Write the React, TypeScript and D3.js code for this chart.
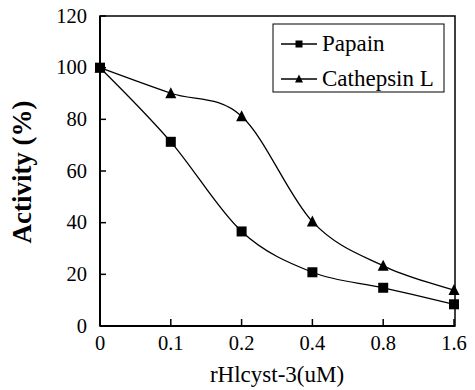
import React from 'react';
import * as d3 from 'd3';

const categories = ['0', '0.1', '0.2', '0.4', '0.8', '1.6'];
const papain = [100, 71.3, 36.6, 20.8, 14.8, 8.4];
const cathepsinL = [100, 90.1, 81.2, 40.4, 23.3, 13.9];
const yTicks = [0, 20, 40, 60, 80, 100, 120];

const W = 475;
const H = 390;
const margin = { top: 16, right: 20, bottom: 64, left: 100 };
const font = "'Liberation Serif', serif";

const App = () => {
  const x = d3.scalePoint<string>()
    .domain(categories)
    .range([margin.left, 454]);
  const y = d3.scaleLinear()
    .domain([0, 120])
    .range([H - margin.bottom, margin.top]);

  const line = d3.line<number>()
    .x((d, i) => x(categories[i]) as number)
    .y((d) => y(d))
    .curve(d3.curveCardinal.tension(0));

  const right = W - margin.right;
  const bottom = H - margin.bottom;

  const square = (cx: number, cy: number, s: number, key?: string) => (
    <rect key={key} x={cx - s / 2} y={cy - s / 2} width={s} height={s} fill="#000" />
  );
  const triangle = (cx: number, cy: number, s: number, key?: string) => (
    <path
      key={key}
      d={`M${cx},${cy - s * 0.55}L${cx + s / 2},${cy + s * 0.45}L${cx - s / 2},${cy + s * 0.45}Z`}
      fill="#000"
    />
  );

  const legendX = 273;
  const legendY = 24;

  return (
    <svg
      width={W}
      height={H}
      fontFamily={font}
      style={{ position: 'absolute', left: 0, top: 0, fontFamily: font }}
    >
      <rect width={W} height={H} fill="#fff" />

      {/* frame */}
      <rect
        x={margin.left}
        y={margin.top}
        width={right - margin.left}
        height={bottom - margin.top}
        fill="none"
        stroke="#000"
        strokeWidth={1.5}
      />
      <line x1={margin.left} x2={right} y1={bottom} y2={bottom} stroke="#000" strokeWidth={2} />
      <line x1={margin.left} x2={margin.left} y1={margin.top} y2={bottom} stroke="#000" strokeWidth={2} />

      {/* y ticks */}
      {yTicks.map((t) => (
        <g key={t}>
          <line x1={margin.left} x2={margin.left + 6} y1={y(t)} y2={y(t)} stroke="#000" strokeWidth={1.5} />
          <text x={87} y={y(t) + 6.5} textAnchor="end" fontSize={20.5}>
            {t}
          </text>
        </g>
      ))}

      {/* x ticks */}
      {categories.map((c) => (
        <g key={c}>
          <line x1={x(c)} x2={x(c)} y1={bottom} y2={bottom - 7} stroke="#000" strokeWidth={1.5} />
          <text x={x(c)} y={350} textAnchor="middle" fontSize={20.5}>
            {c}
          </text>
        </g>
      ))}

      {/* lines */}
      <path d={line(papain) ?? ''} fill="none" stroke="#000" strokeWidth={1.3} />
      <path d={line(cathepsinL) ?? ''} fill="none" stroke="#000" strokeWidth={1.3} />
      {papain.map((v, i) => square(x(categories[i]) as number, y(v), 10, 'p' + i))}
      {cathepsinL.map((v, i) => triangle(x(categories[i]) as number, y(v), 11, 'c' + i))}

      {/* axis titles */}
      <text x={277} y={382} textAnchor="middle" fontSize={23}>
        rHlcyst-3(uM)
      </text>
      <text
        transform="translate(31,172) rotate(-90)"
        textAnchor="middle"
        fontSize={27}
        fontWeight="bold"
      >
        Activity (%)
      </text>

      {/* legend */}
      <rect x={legendX} y={legendY} width={171} height={68} fill="#fff" stroke="#000" strokeWidth={1} />
      <line x1={281} x2={317} y1={44} y2={44} stroke="#000" strokeWidth={1.3} />
      {square(299, 44, 7)}
      <text x={322} y={51} fontSize={23}>Papain</text>
      <line x1={281} x2={317} y1={79} y2={79} stroke="#000" strokeWidth={1.3} />
      {triangle(299, 79, 8)}
      <text x={322} y={86} fontSize={23}>Cathepsin L</text>
    </svg>
  );
};

export default App;
